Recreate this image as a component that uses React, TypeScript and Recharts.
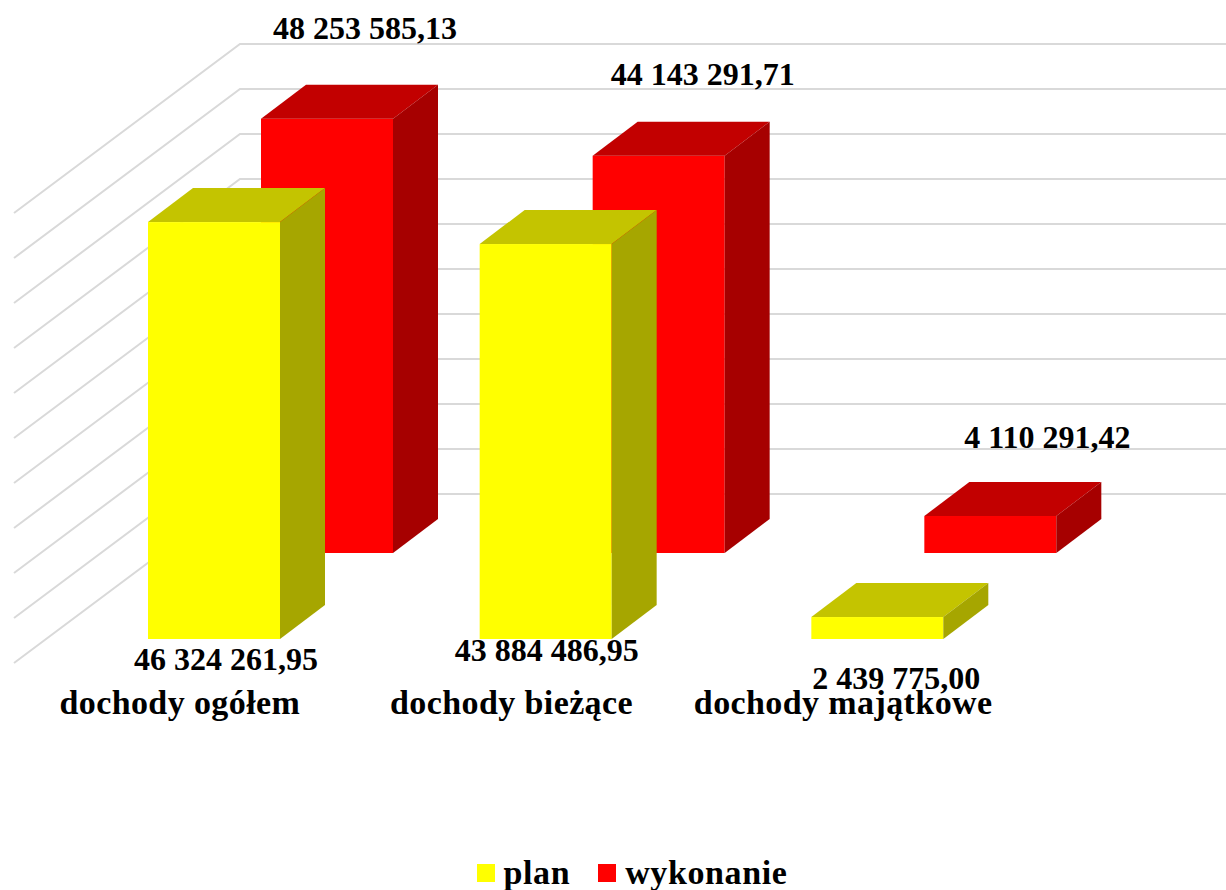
import { BarChart, Bar, XAxis, YAxis, Legend, LabelList, CartesianGrid } from "recharts";

const categories = ["dochody ogółem", "dochody bieżące", "dochody majątkowe"];
const planValues = [46324261.95, 43884486.95, 2439775.0];
const realValues = [48253585.13, 44143291.71, 4110291.42];
const gridTicks = [0, 5000000, 10000000, 15000000, 20000000, 25000000, 30000000, 35000000, 40000000, 45000000, 50000000];

const chartData = categories.map((name, i) => ({ name, plan: planValues[i], wykonanie: realValues[i] }));

const FONT = "'Liberation Serif', serif";
const BAR_W = 132;
const DEPTH_X = 45;
const DEPTH_Y = 34;

// the hand-placed data labels of the original, relative to each bar
const PLAN_LABEL_OFFSET = [[46, 31], [35, 22], [53, 50]];
const REAL_LABEL_OFFSET = [[38, -80], [44, -71], [57, -68]];

const formatValue = (val: number) => {
    const [whole, dec] = val.toFixed(2).split(".");
    return `${whole.replace(/\B(?=(\d{3})+(?!\d))/g, " ")},${dec}`;
};

// one box: front face, top and right side, moved back by shiftX / shiftY
const makeBox = (front: string, top: string, side: string, shiftX: number, shiftY: number) => (props: any) => {
    const x = props.x + shiftX;
    const y = props.y + shiftY;
    const { width: w, height: h } = props;
    return (
        <g>
            <rect x={x} y={y} width={w} height={h} fill={front} />
            <polygon points={`${x},${y} ${x + DEPTH_X},${y - DEPTH_Y} ${x + w + DEPTH_X},${y - DEPTH_Y} ${x + w},${y}`} fill={top} />
            <polygon points={`${x + w},${y} ${x + w + DEPTH_X},${y - DEPTH_Y} ${x + w + DEPTH_X},${y + h - DEPTH_Y} ${x + w},${y + h}`} fill={side} />
        </g>
    );
};

const makeLabel = (offsets: number[][], fromBottom: boolean) => (props: any) => {
    const box = props.viewBox ?? props;
    const i = props.index;
    const cx = box.x + box.width / 2 + offsets[i][0];
    const base = fromBottom ? box.y + box.height : box.y;
    return (
        <text x={cx + (fromBottom ? 0 : 147)} y={base + offsets[i][1] + (fromBottom ? 0 : -86)} textAnchor="middle" fontFamily={FONT} fontWeight="bold" fontSize={32} fill="#000">
            {formatValue(props.value)}
        </text>
    );
};

// walls: a diagonal on the side wall, then the line along the back wall
const wallLine = (props: any) => {
    const y = props.y1 + 24;
    return <polyline key={props.key ?? props.index} points={`14,${y} 240,${y - 169} 1226,${y - 169}`} fill="none" stroke="#d9d9d9" strokeWidth={2} />;
};

const LegendBlock = (props: any) => (
    <div style={{ display: "flex", justifyContent: "center", alignItems: "center", fontFamily: FONT, fontWeight: "bold", fontSize: 34, letterSpacing: 0.6, color: "#000", lineHeight: "36px" }}>
        {props.payload.map((p: any) => (
            <span key={p.value} style={{ display: "flex", alignItems: "center", marginRight: 28 }}>
                <span style={{ width: 18, height: 18, background: p.color, marginRight: 9 }} />
                {p.value}
            </span>
        ))}
    </div>
);

export default function App() {
    return (
        <div style={{ position: "absolute", left: 0, top: 0, width: 1226, height: 890, background: "#fff" }}>
            <BarChart
                width={1226}
                height={890}
                data={chartData}
                margin={{ top: 189, right: 217, bottom: 115, left: 13 }}
                barSize={BAR_W}
                barGap={-BAR_W}
            >
                <CartesianGrid vertical={false} horizontal={wallLine} syncWithTicks />
                <YAxis width={1} domain={[0, 50000000]} ticks={gridTicks} axisLine={false} tickLine={false} tick={() => <g />} interval={0} />
                <XAxis
                    dataKey="name"
                    height={100}
                    interval={0}
                    axisLine={false}
                    tickLine={false}
                    tickMargin={45}
                    tick={{ fontFamily: FONT, fontWeight: "bold", fontSize: 34, letterSpacing: 0.4, fill: "#000" }}
                />
                <Bar dataKey="wykonanie" name="wykonanie" fill="#ff0000" isAnimationActive={false} shape={makeBox("#ff0000", "#c20000", "#a60000", 34 + 113, -86)}>
                    <LabelList dataKey="wykonanie" content={makeLabel(REAL_LABEL_OFFSET, false)} />
                </Bar>
                <Bar dataKey="plan" name="plan" fill="#ffff00" isAnimationActive={false} shape={makeBox("#ffff00", "#c4c400", "#a6a600", 34, 0)}>
                    <LabelList dataKey="plan" content={makeLabel(PLAN_LABEL_OFFSET, true)} />
                </Bar>
                <Legend content={LegendBlock} wrapperStyle={{ left: 33, top: 855, width: 1226 }} />
            </BarChart>
        </div>
    );
}
